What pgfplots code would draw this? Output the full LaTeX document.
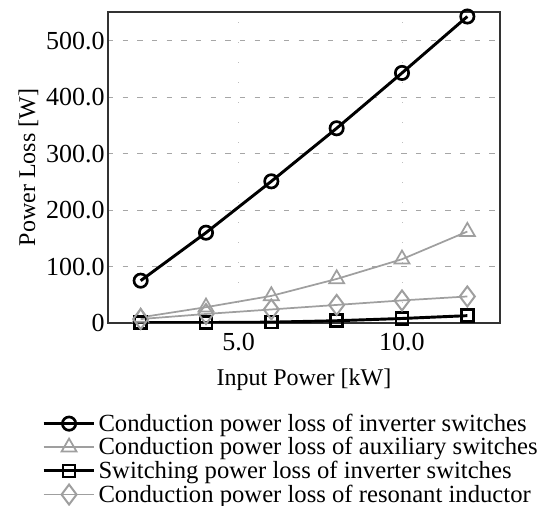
\documentclass[border=0pt]{standalone}
\usepackage{fontspec}
\setmainfont{Liberation Serif}
\usepackage{pgfplots}
\pgfplotsset{compat=1.18}

\begin{document}
\begin{tikzpicture}[x=0.75pt,y=0.75pt]
  \clip (-108,-183) rectangle (432,323);
  \begin{axis}[
    at={(0,0)}, anchor=south west,
    scale only axis,
    width=294pt, height=233.25pt,
    xmin=1, xmax=13,
    ymin=0, ymax=551,
    xtick={5,10}, xticklabels={5.0,10.0},
    ytick={0,100,200,300,400,500},
    yticklabels={0,100.0,200.0,300.0,400.0,500.0},
    tick style={draw=none},
    ticklabel style={font=\fontsize{19.5}{22}\selectfont},
    xticklabel style={yshift=-4pt},
    yticklabel style={xshift=1pt},
    label style={font=\fontsize{18}{21}\selectfont},
    xlabel={Input Power [kW]},
    ylabel={Power Loss [W]},
    xlabel style={yshift=-7pt},
    ylabel style={yshift=-1pt},
    axis line style={line width=0.9pt, black!80},
    ymajorgrids, xmajorgrids,
    y grid style={dash pattern=on 4pt off 7pt, gray!70, line width=0.6pt},
    x grid style={dash pattern=on 1pt off 14pt, gray!50, line width=0.6pt},
    legend style={at={(-49.5pt,-64pt)}, anchor=north west, draw=none, fill=none,
                  font=\fontsize{18.5}{21}\selectfont, row sep=-0.8pt,
                  cells={anchor=west}, inner xsep=0pt},
    legend image code/.code={%
      \draw[mark repeat=2,mark phase=2] plot coordinates {(0pt,0pt) (19pt,0pt) (38pt,0pt)};},
    legend cell align=left,
  ]
    \addplot[black, line width=2.2pt, mark=o, mark size=5pt,
             mark options={line width=2pt, fill=white}]
      coordinates {(2,75) (4,160) (6,251) (8,345) (10,443) (12,543)};
    \addplot[gray!75, line width=1.3pt, mark=triangle, mark size=6.5pt,
             mark options={line width=1.3pt, fill=white, gray!75}]
      coordinates {(2,10) (4,28) (6,48) (8,78) (10,113) (12,162)};
    \addplot[black, line width=2.2pt, mark=square, mark size=4.5pt,
             mark options={line width=2pt, fill=white}]
      coordinates {(2,0.5) (4,0.8) (6,1.5) (8,4) (10,8) (12,13)};
    \addplot[gray!75, line width=1.3pt, mark=diamond, mark size=7.5pt,
             mark options={line width=1.5pt, fill=white, gray!75}]
      coordinates {(2,7) (4,16) (6,24) (8,32) (10,40) (12,47)};
    \legend{Conduction power loss of inverter switches,
            Conduction power loss of auxiliary switches,
            Switching power loss of inverter switches,
            Conduction power loss of resonant inductor}
  \end{axis}
\end{tikzpicture}
\end{document}
